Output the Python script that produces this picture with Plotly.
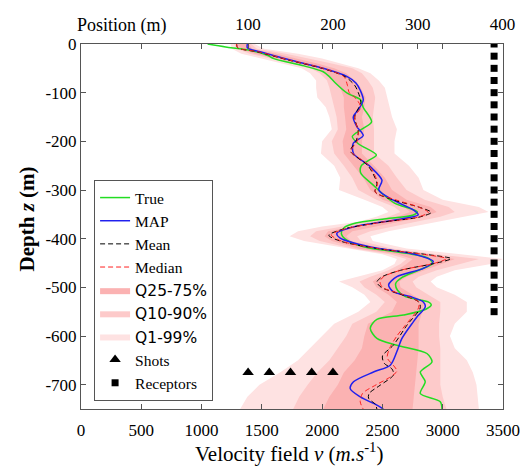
import plotly.graph_objects as go

# ---------------- data ----------------
true_depth = [0, -6, -12, -23, -30, -45, -57, -67, -80, -101, -115, -130, -160, -175, -190, -205, -228, -240, -250, -265,
              -290, -307, -327, -345, -352, -360, -368, -378, -390, -403, -417, -430, -440, -451, -465, -480, -492, -506,
              -519, -530, -536, -545, -557, -566, -584, -605, -619, -636, -653, -674, -694, -718, -735, -750]
true_v = [1050, 1200, 1378, 1544, 1600, 1850, 2009, 2060, 2110, 2208, 2320, 2340, 2410, 2330, 2250, 2300, 2450, 2380, 2325, 2320,
          2424, 2496, 2600, 2790, 2750, 2500, 2280, 2180, 2160, 2205, 2350, 2700, 2880, 2915, 2800, 2660, 2610, 2625,
          2690, 2880, 2905, 2860, 2673, 2454, 2399, 2454, 2620, 2869, 2911, 2814, 2855, 2814, 2980, 2994]

map_depth = [0, -8, -16, -33, -50, -67, -80, -95, -115, -135, -150, -170, -188, -204, -225, -252, -280, -300, -321, -341,
             -351, -362, -376, -389, -399, -417, -430, -447, -461, -478, -495, -509, -519, -530, -540, -561, -571, -605,
             -632, -660, -674, -694, -708, -725, -742, -750]
map_v = [1380, 1380, 1486, 1735, 2009, 2208, 2280, 2316, 2341, 2300, 2258, 2288, 2341, 2258, 2260, 2399, 2496, 2470, 2590, 2756,
         2797, 2590, 2258, 2122, 2150, 2399, 2731, 2922, 2839, 2620, 2551, 2590, 2731, 2839, 2855, 2786, 2756, 2662,
         2620, 2565, 2426, 2260, 2233, 2316, 2454, 2507]

mean_depth = [0, -8, -16, -33, -50, -67, -85, -100, -120, -150, -180, -200, -220, -250, -286, -304, -321, -335, -346, -356,
              -366, -380, -393, -405, -420, -432, -441, -450, -465, -478, -489, -500, -515, -530, -542, -578, -619, -641,
              -656, -668, -680, -701, -718, -728, -740, -750]
mean_v = [1290, 1300, 1460, 1720, 2000, 2190, 2270, 2300, 2320, 2270, 2300, 2280, 2235, 2380, 2454, 2440, 2600, 2800, 2905, 2800,
          2500, 2180, 2055, 2150, 2450, 2850, 3070, 2950, 2650, 2500, 2454, 2490, 2660, 2800, 2814, 2703, 2590, 2500,
          2515, 2580, 2592, 2482, 2390, 2385, 2440, 2454]

median_depth = [0, -8, -16, -33, -50, -67, -85, -100, -112, -130, -150, -180, -200, -220, -250, -286, -304, -321, -335, -346,
                -356, -366, -380, -392, -405, -420, -432, -441, -450, -465, -478, -488, -500, -515, -530, -542, -578, -600,
                -625, -645, -660, -672, -685, -700, -718, -735, -750]
median_v = [1290, 1300, 1470, 1730, 2010, 2180, 2210, 2225, 2280, 2320, 2270, 2300, 2290, 2240, 2390, 2460, 2440, 2620, 2800, 2880,
            2790, 2500, 2190, 2075, 2160, 2450, 2830, 3030, 2940, 2650, 2510, 2480, 2500, 2670, 2800, 2800, 2690, 2620,
            2560, 2540, 2590, 2620, 2560, 2450, 2335, 2316, 2340]

band_depth = [0, -10, -20, -30, -40, -50, -60, -75, -90, -110, -130, -150, -175, -200, -225, -250, -275, -300, -320, -335,
              -345, -355, -365, -375, -385, -395, -405, -420, -432, -442, -452, -465, -478, -488, -500, -515, -530, -550,
              -575, -600, -625, -650, -675, -700, -725, -750]
q1_lo = [1240, 1250, 1330, 1500, 1680, 1830, 1900, 1950, 1950, 1960, 2030, 2060, 2080, 2000, 1990, 2100, 2150, 2140, 2350, 2500,
         2550, 2450, 2300, 2000, 1800, 1730, 1850, 2200, 2500, 2620, 2600, 2500, 2300, 2140, 2250, 2350, 2400, 2300,
         2100, 2000, 1900, 1800, 1650, 1480, 1380, 1320]
q10_lo = [1270, 1290, 1400, 1580, 1750, 1900, 1980, 2040, 2060, 2080, 2100, 2120, 2130, 2080, 2100, 2180, 2250, 2300, 2450, 2600,
          2650, 2550, 2380, 2150, 1950, 1900, 1980, 2250, 2560, 2700, 2650, 2550, 2400, 2310, 2350, 2450, 2520, 2450,
          2250, 2200, 2130, 2060, 1960, 1880, 1810, 1760]
q25_lo = [1290, 1320, 1440, 1630, 1800, 1950, 2040, 2100, 2150, 2180, 2180, 2190, 2200, 2170, 2180, 2260, 2340, 2400, 2500, 2680,
          2730, 2620, 2450, 2250, 2050, 2020, 2080, 2300, 2620, 2750, 2700, 2620, 2480, 2420, 2450, 2550, 2620, 2580,
          2380, 2350, 2330, 2270, 2180, 2130, 2060, 2010]
q25_hi = [1390, 1420, 1620, 1800, 1960, 2100, 2200, 2270, 2320, 2360, 2350, 2330, 2350, 2330, 2330, 2430, 2520, 2580, 2700, 2900,
          2950, 2850, 2650, 2450, 2250, 2200, 2240, 2500, 2850, 3100, 3000, 2850, 2700, 2640, 2650, 2750, 2850, 2830,
          2800, 2800, 2800, 2790, 2780, 2770, 2760, 2750]
q10_hi = [1410, 1460, 1700, 1900, 2080, 2250, 2330, 2380, 2420, 2440, 2430, 2420, 2430, 2430, 2430, 2550, 2620, 2700, 2850, 3050,
          3100, 2980, 2800, 2600, 2400, 2290, 2320, 2580, 2950, 3300, 3150, 2950, 2800, 2750, 2780, 2880, 2980, 2980,
          2970, 2970, 2980, 2980, 2980, 2980, 3000, 3030]
q1_hi = [1440, 1520, 1800, 2000, 2150, 2300, 2400, 2470, 2520, 2540, 2560, 2580, 2620, 2600, 2600, 2720, 2800, 2840, 3000, 3300,
         3380, 3150, 2950, 2750, 2550, 2400, 2420, 2700, 3150, 3500, 3400, 3100, 2950, 2900, 2950, 3100, 3200, 3200,
         3100, 3060, 3100, 3200, 3250, 3280, 3290, 3300]

shot_pos = [100, 125, 150, 175, 200]
shot_depth = [-675, -675, -675, -675, -675]
receptor_pos = [390] * 23
receptor_depth = [-25 * i for i in range(23)]

x_ticks = [0, 500, 1000, 1500, 2000, 2500, 3000, 3500]
x_ticktext = ["0", "500", "1000", "1500", "2000", "2500", "3000", "3500"]
y_ticks = [0, -100, -200, -300, -400, -500, -600, -700]
y_ticktext = ["0", "-100", "-200", "-300", "-400", "-500", "-600", "-700"]
pos_ticks = [100, 200, 300, 400]
pos_ticktext = ["100", "200", "300", "400"]

# ---------------- figure ----------------
SERIF = "Liberation Serif"
SANS = "DejaVu Sans"
AX = "#555555"
TICKFONT = dict(family=SERIF, size=17, color="black")

fig = go.Figure()


def band(lo, hi, color, name, rank):
    fig.add_trace(go.Scatter(
        x=lo + hi[::-1], y=band_depth + band_depth[::-1],
        mode="lines", fill="toself", fillcolor=color, line=dict(width=0, color=color),
        name='<span style="font-family:%s">%s</span>' % (SANS, name),
        legendrank=rank, legendgroup="g%d" % rank, hoverinfo="skip"))


band(q1_lo, q1_hi, "#fee2e2", "Q1-99%", 7)
band(q10_lo, q10_hi, "#fdcaca", "Q10-90%", 6)
band(q25_lo, q25_hi, "#fbb2b2", "Q25-75%", 5)

fig.add_trace(go.Scatter(x=true_v, y=true_depth, mode="lines", name="True",
                         line=dict(color="#22dd22", width=1.5, shape="spline", smoothing=0.8),
                         legendrank=1, legendgroup="g1"))
fig.add_trace(go.Scatter(x=map_v, y=map_depth, mode="lines", name="MAP",
                         line=dict(color="#2020ee", width=1.5, shape="spline", smoothing=0.8),
                         legendrank=2, legendgroup="g2"))
fig.add_trace(go.Scatter(x=mean_v, y=mean_depth, mode="lines", name="Mean",
                         line=dict(color="#000000", width=1, dash="5px,3px", shape="spline", smoothing=0.8),
                         legendrank=3, legendgroup="g3"))
fig.add_trace(go.Scatter(x=median_v, y=median_depth, mode="lines", name="Median",
                         line=dict(color="#ff2020", width=1, dash="5px,3px", shape="spline", smoothing=0.8),
                         legendrank=4, legendgroup="g4"))
fig.add_trace(go.Scatter(x=shot_pos, y=shot_depth, xaxis="x2", mode="markers", name="Shots",
                         marker=dict(symbol="triangle-up", size=10, color="black"),
                         legendrank=8, legendgroup="g8"))
fig.add_trace(go.Scatter(x=receptor_pos, y=receptor_depth, xaxis="x2", mode="markers", name="Receptors",
                         marker=dict(symbol="square", size=7, color="black"),
                         legendrank=9, legendgroup="g9"))

fig.update_layout(
    width=528, height=467, autosize=False,
    margin=dict(l=81, r=25, t=44, b=58, autoexpand=False),
    paper_bgcolor="white", plot_bgcolor="white",
    font=dict(family=SERIF, size=16, color="black"),
    xaxis=dict(range=[0, 3500], tickvals=x_ticks, ticktext=x_ticktext, ticks="inside", ticklen=5,
               tickcolor=AX, showline=True, linecolor=AX, linewidth=1, mirror="ticks", tickfont=TICKFONT,
               showgrid=False, zeroline=False, ticklabelstandoff=6, automargin=False),
    xaxis2=dict(range=[-97, 400.5], overlaying="x", side="top", tickvals=pos_ticks, ticktext=pos_ticktext,
                ticks="inside", ticklen=5, tickcolor=AX, showline=False, showgrid=False, zeroline=False,
                tickfont=TICKFONT, ticklabelstandoff=10, automargin=False),
    yaxis=dict(range=[-750, 0], tickvals=y_ticks, ticktext=y_ticktext, ticks="inside", ticklen=5,
               tickcolor=AX, showline=True, linecolor=AX, linewidth=1, mirror="ticks", tickfont=TICKFONT,
               showgrid=False, zeroline=False, ticklabelstandoff=0, automargin=False),
    legend=dict(x=0.031, y=0.6274, xanchor="left", yanchor="top", bgcolor="white",
                bordercolor="#555555", borderwidth=1, font=dict(family=SERIF, size=15.5),
                tracegroupgap=0, itemwidth=30),
    showlegend=True,
    annotations=[
        dict(text="Position (m)", xref="paper", yref="paper", x=0.097, y=1.052, showarrow=False,
             xanchor="center", yanchor="middle", font=dict(family=SERIF, size=18)),
        dict(text="Velocity field <i>v</i> (<i>m.s</i><sup>-1</sup>)", xref="paper", yref="paper",
             x=0.493, y=-0.118, showarrow=False, xanchor="center", yanchor="middle",
             font=dict(family=SERIF, size=21)),
        dict(text="<b>Depth <i>z</i> (m)</b>", xref="paper", yref="paper", x=-0.1257, y=0.522,
             textangle=-90, showarrow=False, xanchor="center", yanchor="middle",
             font=dict(family=SERIF, size=21)),
    ],
)

fig.write_html("out.html", config={"displayModeBar": False},
               post_script="document.body.style.margin='0px';")
